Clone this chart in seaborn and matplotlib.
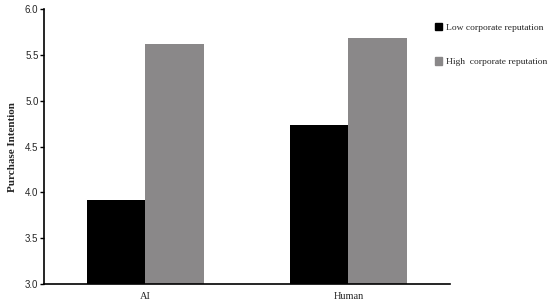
import matplotlib
matplotlib.use("Agg")
import matplotlib.pyplot as plt
import seaborn as sns
import pandas as pd
from matplotlib.patches import Patch

agents = ["AI", "Human"]
reputation = ["Low corporate reputation", "High  corporate reputation"]
low_vals = [3.92, 4.74]
high_vals = [5.62, 5.68]

df = pd.DataFrame({
    "agent": agents * 2,
    "rep": [reputation[0]] * 2 + [reputation[1]] * 2,
    "value": low_vals + high_vals,
})

sns.set_style("white")
plt.rcParams['font.family'] = ['Liberation Serif', 'DejaVu Serif']

fig = plt.figure(figsize=(5.5, 3.03), dpi=100)
ax = fig.add_axes([0.08, 0.0627, 0.738, 0.907])
colors = ["#000000", "#8a8889"]
sns.barplot(data=df, x="agent", y="value", hue="rep", order=agents, hue_order=reputation,
            palette=colors, width=0.58, saturation=1, ax=ax, legend=False, edgecolor="none")

ax.set_ylim(3.0, 6.0)
ax.set_xlim(-0.5, 1.5)
ax.set_yticks([3.0, 3.5, 4.0, 4.5, 5.0, 5.5, 6.0])
ax.set_yticklabels([f"{v:.1f}" for v in [3.0, 3.5, 4.0, 4.5, 5.0, 5.5, 6.0]],
                   family=['Liberation Sans'], fontsize=7)
ax.set_xticks([0, 1])
ax.set_xticklabels(agents, fontsize=7.5)
ax.tick_params(axis='x', which='major', length=0, pad=6)
ax.set_xticks([0.5, 1.5], minor=True)
ax.tick_params(axis='x', which='minor', length=4, width=1, direction='in', color='black')
ax.tick_params(axis='y', length=3, width=1, direction='out', color='black', left=True, pad=1)
ax.set_xlabel("")
ax.set_ylabel("Purchase Intention", fontsize=8, fontweight='bold', labelpad=6)
for s in ["top", "right"]:
    ax.spines[s].set_visible(False)
for s in ["left", "bottom"]:
    ax.spines[s].set_color("black")
    ax.spines[s].set_linewidth(1.2)

handles = [Patch(color=c) for c in colors]
fig.legend(handles, reputation, loc='upper left', bbox_to_anchor=(0.775, 0.952),
           frameon=False, fontsize=6.8, handlelength=0.8, handleheight=0.8,
           handletextpad=0.4, labelspacing=2.7)

fig.savefig("out.png", dpi=100)
